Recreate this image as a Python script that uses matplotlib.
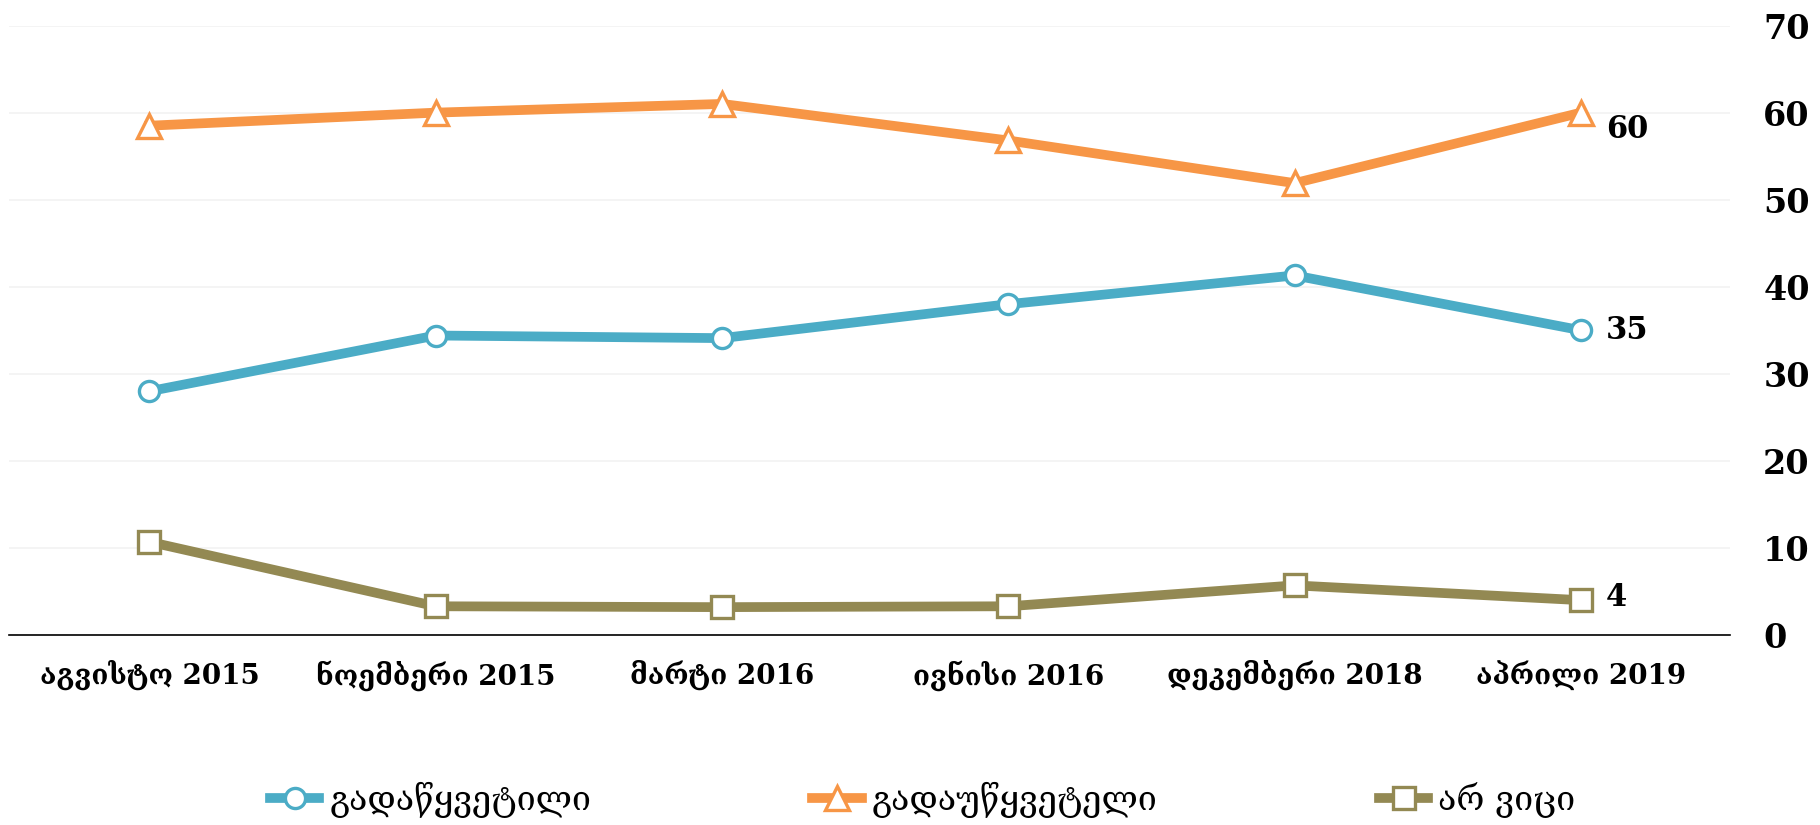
import matplotlib
matplotlib.use("Agg")
import matplotlib.pyplot as plt

categories = ["აგვისტო 2015", "ნოემბერი 2015", "მარტი 2016", "ივნისი 2016", "დეკემბერი 2018", "აპრილი 2019"]
decided = [28, 34.4, 34.1, 38, 41.3, 35]
undecided = [58.5, 60, 61, 56.8, 51.9, 60]
dont_know = [10.7, 3.3, 3.2, 3.3, 5.7, 4]
series_names = ["გადაწყვეტილი", "გადაუწყვეტელი", "არ ვიცი"]
end_labels = ["35", "60", "4"]
yticks = [0, 10, 20, 30, 40, 50, 60, 70]

colors = ["#4BACC6", "#F79646", "#938953"]
markers = ["o", "^", "s"]
msizes = [14.5, 17.5, 16]

fam = ["DejaVu Serif", "DejaVu Sans"]

fig = plt.figure(figsize=(18.2, 8.25), dpi=100)
ax = fig.add_axes([0.005, 0.2303, 0.9455, 0.7387])

x = list(range(len(categories)))
handles = []
for vals, c, m, ms, name in zip([decided, undecided, dont_know], colors, markers, msizes, series_names):
    h, = ax.plot(x, vals, color=c, lw=7, marker=m, markersize=ms,
                 markerfacecolor="white", markeredgecolor=c, markeredgewidth=2.4,
                 label=name, zorder=3)
    handles.append(h)

offsets = [(18, 0), (18, -12), (18, 2)]
for vals, lab, off in zip([decided, undecided, dont_know], end_labels, offsets):
    ax.annotate(lab, (x[-1], vals[-1]), xytext=off, textcoords="offset points",
                ha="left", va="center", fontsize=22, fontweight="bold", family=fam)

ax.set_xlim(-0.49, 5.52)
ax.set_ylim(0, 70)
ax.set_yticks(yticks)
ax.yaxis.tick_right()
ax.set_yticklabels([str(v) for v in yticks], fontsize=24, fontweight="bold", family=fam)
ax.tick_params(axis="y", length=0, pad=24)
ax.set_xticks(x)
ax.set_xticklabels(categories, fontsize=20, fontweight="bold", family=fam)
ax.tick_params(axis="x", length=0, pad=18)
for lbl in ax.get_yticklabels():
    lbl.set_horizontalalignment("left")

ax.grid(axis="y", color="#F2F2F2", lw=1.2)
ax.set_axisbelow(True)
for s in ["top", "left", "right"]:
    ax.spines[s].set_visible(False)
ax.spines["bottom"].set_color("black")
ax.spines["bottom"].set_linewidth(1.2)

leg = fig.legend(handles=handles, loc="center", bbox_to_anchor=(0.507, 0.03), ncol=3,
                 frameon=False, columnspacing=6.5, handlelength=1.45, handletextpad=0.3,
                 prop={"family": fam, "size": 24.5})

fig.savefig("out.png", dpi=100, facecolor="white")
